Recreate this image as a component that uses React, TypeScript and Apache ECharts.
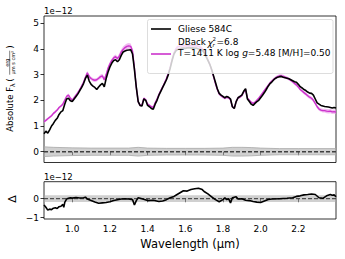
import React, { useEffect, useRef } from 'react';
import * as echarts from 'echarts';

const FONT = 'DejaVu Sans';

// wavelength grid (µm)
const wave = [
  0.85, 0.86, 0.87, 0.88, 0.89, 0.9, 0.91, 0.92, 0.93, 0.94,
  0.95, 0.96, 0.97, 0.98, 0.99, 1.0, 1.01, 1.02, 1.03, 1.04,
  1.05, 1.06, 1.07, 1.08, 1.09, 1.1, 1.11, 1.12, 1.13, 1.14,
  1.15, 1.16, 1.17, 1.18, 1.19, 1.2, 1.21, 1.22, 1.23, 1.24,
  1.25, 1.26, 1.27, 1.28, 1.29, 1.3, 1.31, 1.32, 1.33, 1.34,
  1.35, 1.36, 1.37, 1.38, 1.39, 1.4, 1.41, 1.42, 1.43, 1.44,
  1.45, 1.46, 1.47, 1.48, 1.49, 1.5, 1.51, 1.52, 1.53, 1.54,
  1.55, 1.56, 1.57, 1.58, 1.59, 1.6, 1.61, 1.62, 1.63, 1.64,
  1.65, 1.66, 1.67, 1.68, 1.69, 1.7, 1.71, 1.72, 1.73, 1.74,
  1.75, 1.76, 1.77, 1.78, 1.79, 1.8, 1.81, 1.82, 1.83, 1.84,
  1.85, 1.86, 1.87, 1.88, 1.89, 1.9, 1.91, 1.92, 1.93, 1.94,
  1.95, 1.96, 1.97, 1.98, 1.99, 2.0, 2.01, 2.02, 2.03, 2.04,
  2.05, 2.06, 2.07, 2.08, 2.09, 2.1, 2.11, 2.12, 2.13, 2.14,
  2.15, 2.16, 2.17, 2.18, 2.19, 2.2, 2.21, 2.22, 2.23, 2.24,
  2.25, 2.26, 2.27, 2.28, 2.29, 2.3, 2.31, 2.32, 2.33, 2.34,
  2.35, 2.36, 2.37, 2.38, 2.39, 2.4,
];

// observed flux, Gliese 584C (units of 1e-12)
const obsFlux = [
  0.70, 0.80, 0.72, 0.85, 1.00, 1.10, 1.22, 1.30, 1.45, 1.55,
  1.60, 1.85, 2.05, 2.08, 1.98, 1.95, 2.05, 2.15, 2.25, 2.38,
  2.50, 2.65, 2.85, 2.98, 2.75, 2.62, 2.55, 2.50, 2.42, 2.52,
  2.60, 2.66, 2.52, 2.85, 3.10, 3.30, 3.45, 3.55, 3.58, 3.50,
  3.58, 3.75, 3.88, 3.92, 3.95, 3.96, 3.97, 3.80, 3.20, 2.50,
  1.95, 1.80, 1.78, 2.05, 2.00, 1.80, 1.75, 1.68, 1.65, 1.85,
  2.00, 2.20, 2.35, 2.50, 2.65, 2.80, 3.00, 3.25, 3.55, 3.80,
  3.92, 3.98, 4.00, 4.02, 4.03, 4.02, 4.04, 4.05, 4.03, 4.04,
  4.02, 4.03, 4.00, 3.98, 3.95, 3.85, 3.70, 3.55, 3.40, 3.20,
  2.95, 2.70, 2.45, 2.27, 2.20, 2.15, 2.10, 2.15, 2.12, 2.05,
  1.75, 1.68, 1.95, 2.10, 2.15, 2.20, 2.35, 2.45, 2.05, 1.95,
  1.85, 1.80, 1.88, 1.95, 2.00, 2.10, 2.20, 2.30, 2.42, 2.55,
  2.65, 2.72, 2.80, 2.86, 2.90, 2.92, 2.93, 2.90, 2.88, 2.86,
  2.84, 2.80, 2.76, 2.72, 2.70, 2.62, 2.53, 2.48, 2.42, 2.38,
  2.32, 2.28, 2.27, 2.20, 2.05, 1.90, 1.85, 1.80, 1.78, 1.76,
  1.75, 1.74, 1.72, 1.70, 1.72, 1.70,
];

// model flux T=1411 K (units of 1e-12)
const modelFlux = [
  1.17, 1.22, 1.28, 1.34, 1.40, 1.49, 1.55, 1.62, 1.72, 1.78,
  1.85, 2.00, 2.15, 2.20, 2.08, 2.00, 2.10, 2.20, 2.30, 2.42,
  2.55, 2.70, 2.90, 3.07, 2.92, 2.85, 2.80, 2.78, 2.80, 2.86,
  2.92, 2.95, 2.80, 3.00, 3.25, 3.42, 3.55, 3.65, 3.70, 3.62,
  3.72, 3.88, 3.98, 4.05, 4.10, 4.12, 4.10, 3.92, 3.25, 2.50,
  1.95, 1.80, 1.82, 2.08, 2.02, 1.85, 1.80, 1.75, 1.72, 1.90,
  2.05, 2.22, 2.38, 2.52, 2.68, 2.85, 3.05, 3.30, 3.60, 3.85,
  4.00, 4.08, 4.10, 4.12, 4.12, 4.11, 4.13, 4.12, 4.12, 4.13,
  4.11, 4.12, 4.10, 4.06, 4.00, 3.90, 3.75, 3.58, 3.40, 3.18,
  2.92, 2.65, 2.42, 2.25, 2.18, 2.12, 2.08, 2.12, 2.10, 2.02,
  1.75, 1.70, 1.95, 2.10, 2.12, 2.18, 2.32, 2.42, 2.08, 2.00,
  1.92, 1.88, 1.92, 2.00, 2.08, 2.18, 2.28, 2.38, 2.48, 2.58,
  2.68, 2.75, 2.82, 2.88, 2.92, 2.95, 2.95, 2.93, 2.90, 2.87,
  2.83, 2.78, 2.72, 2.66, 2.60, 2.52, 2.42, 2.36, 2.30, 2.24,
  2.18, 2.12, 2.08, 2.00, 1.88, 1.75, 1.66, 1.62, 1.60, 1.60,
  1.58, 1.57, 1.58, 1.55, 1.56, 1.54,
];

// model uncertainty half-width
const modelErr = [
  0.05, 0.05, 0.05, 0.05, 0.05, 0.05, 0.05, 0.05, 0.05, 0.05,
  0.06, 0.06, 0.06, 0.06, 0.06, 0.06, 0.06, 0.06, 0.06, 0.06,
  0.07, 0.07, 0.07, 0.07, 0.07, 0.07, 0.07, 0.07, 0.07, 0.07,
  0.08, 0.08, 0.08, 0.08, 0.08, 0.08, 0.08, 0.08, 0.08, 0.08,
  0.11, 0.11, 0.11, 0.11, 0.11, 0.11, 0.11, 0.11, 0.08, 0.06,
  0.05, 0.05, 0.05, 0.05, 0.05, 0.05, 0.05, 0.05, 0.05, 0.05,
  0.06, 0.06, 0.06, 0.06, 0.06, 0.06, 0.06, 0.06, 0.06, 0.06,
  0.08, 0.08, 0.08, 0.08, 0.08, 0.08, 0.08, 0.08, 0.08, 0.08,
  0.08, 0.08, 0.08, 0.08, 0.08, 0.08, 0.08, 0.08, 0.08, 0.08,
  0.05, 0.05, 0.05, 0.05, 0.05, 0.05, 0.05, 0.05, 0.05, 0.05,
  0.05, 0.05, 0.05, 0.05, 0.05, 0.05, 0.05, 0.05, 0.05, 0.05,
  0.05, 0.05, 0.05, 0.05, 0.05, 0.05, 0.05, 0.05, 0.05, 0.05,
  0.06, 0.06, 0.06, 0.06, 0.06, 0.06, 0.06, 0.06, 0.06, 0.06,
  0.06, 0.06, 0.06, 0.06, 0.06, 0.06, 0.06, 0.06, 0.06, 0.06,
  0.07, 0.07, 0.07, 0.07, 0.07, 0.07, 0.07, 0.07, 0.07, 0.07,
  0.08, 0.08, 0.08, 0.08, 0.08, 0.08,
];

// observational noise around zero (top panel)
const noiseWave = [0.85, 0.9, 1.0, 1.1, 1.2, 1.3, 1.35, 1.4, 1.5, 1.6, 1.7, 1.8, 1.85, 1.9, 1.95, 2.0, 2.1, 2.2, 2.3, 2.4];
const noiseSigma = [0.19, 0.17, 0.15, 0.14, 0.14, 0.14, 0.17, 0.14, 0.13, 0.13, 0.13, 0.14, 0.17, 0.17, 0.16, 0.14, 0.12, 0.12, 0.12, 0.12];

// residuals Δ (units of 1e-12)
const residWave = [
  0.85, 0.86, 0.87, 0.88, 0.89, 0.9, 0.91, 0.92, 0.93, 0.94, 0.95, 0.955, 0.96, 0.97, 0.98, 0.99,
  1.0, 1.02, 1.04, 1.06, 1.07, 1.08, 1.1, 1.12, 1.14, 1.16, 1.18, 1.2, 1.22, 1.24, 1.26, 1.28,
  1.3, 1.32, 1.33, 1.34, 1.35, 1.37, 1.4, 1.43, 1.46, 1.48, 1.5, 1.52, 1.54, 1.55, 1.57, 1.59,
  1.61, 1.63, 1.65, 1.67, 1.69, 1.7, 1.72, 1.74, 1.76, 1.78, 1.8, 1.81, 1.82, 1.83, 1.84, 1.85,
  1.87, 1.88, 1.9, 1.92, 1.94, 1.96, 1.98, 2.0, 2.02, 2.04, 2.06, 2.1, 2.14, 2.17, 2.19, 2.21,
  2.23, 2.25, 2.27, 2.29, 2.31, 2.33, 2.35, 2.37, 2.38, 2.39, 2.4,
];
const residVal = [
  -0.33, -0.45, -0.6, -0.55, -0.58, -0.5, -0.48, -0.52, -0.42, -0.4, -0.3, -0.45, -0.2, -0.02, 0.02, 0.05,
  0.03, 0.06, 0.04, 0.05, 0.08, -0.02, -0.1, -0.18, -0.24, -0.22, -0.2, -0.16, -0.1, -0.06, -0.02, 0.0,
  -0.02, -0.05, -0.33, -0.1, 0.05, 0.0, -0.1, -0.08, -0.15, -0.12, -0.05, 0.05, 0.12, 0.18, 0.3, 0.42,
  0.4, 0.48, 0.52, 0.55, 0.48, 0.38, 0.25, 0.1, -0.05, -0.16, -0.05, 0.05, -0.05, 0.0, -0.22, 0.05,
  0.1, -0.02, 0.0, -0.08, -0.1, -0.15, -0.18, -0.2, -0.12, -0.04, -0.02, 0.0, 0.02, 0.05, 0.12, 0.15,
  0.2, 0.22, 0.25, 0.22, 0.05, 0.02, 0.15, 0.22, 0.18, 0.2, 0.1,
];
const residBandWave = [0.85, 2.4];
const residBandSigma = [0.18, 0.18];

const xTicks = [1.0, 1.2, 1.4, 1.6, 1.8, 2.0, 2.2];
const yTicksTop = [0, 1, 2, 3, 4, 5];
const yTicksBottom = [-1, 0];

const X_MIN = 0.85;
const X_MAX = 2.4;

function band(xs: number[], lo: number[], hi: number[], xi: number, yi: number, fill: string, stroke: string, z: number) {
  return {
    type: 'custom',
    xAxisIndex: xi,
    yAxisIndex: yi,
    z,
    silent: true,
    clip: true,
    data: xs.map((x, i) => [x, (lo[i] + hi[i]) / 2]),
    renderItem: (params: any, api: any) => {
      if (params.dataIndex !== 0) return null;
      const upper = xs.map((x, i) => api.coord([x, hi[i]]));
      const lower = xs.map((x, i) => api.coord([x, lo[i]])).reverse();
      return {
        type: 'polygon',
        shape: { points: upper.concat(lower) },
        style: { fill, stroke, lineWidth: stroke === 'none' ? 0 : 0.8 },
      };
    },
  };
}

export default function App() {
  const ref = useRef<HTMLDivElement>(null);
  useEffect(() => {
    if (!ref.current) return;
    const chart = echarts.init(ref.current, undefined, { renderer: 'svg' });

    const axisX = (gi: number, showLabel: boolean) => ({
      type: 'value',
      gridIndex: gi,
      min: X_MIN,
      max: X_MAX,
      axisLine: { show: false },
      splitLine: { show: false },
      axisTick: { show: true, length: 3.5, lineStyle: { color: '#000', width: 0.8 }, customValues: xTicks },
      axisLabel: {
        show: showLabel,
        customValues: xTicks,
        color: '#000',
        fontSize: 9,
        fontFamily: FONT,
        margin: 5,
        formatter: (v: number) => v.toFixed(1),
      },
    });

    const option: any = {
      animation: false,
      textStyle: { fontFamily: FONT },
      grid: [
        { left: 44, top: 16, width: 292, height: 146.5, show: true, borderColor: '#000', borderWidth: 0.8, backgroundColor: 'transparent' },
        { left: 44, top: 181.7, width: 292, height: 37.3, show: true, borderColor: '#000', borderWidth: 0.8, backgroundColor: 'transparent' },
      ],
      xAxis: [axisX(0, false), axisX(1, true)],
      yAxis: [
        {
          type: 'value', gridIndex: 0, min: -0.42, max: 5.28,
          axisLine: { show: false }, splitLine: { show: false },
          axisTick: { show: true, length: 3.5, lineStyle: { color: '#000', width: 0.8 }, customValues: yTicksTop },
          axisLabel: { customValues: yTicksTop, color: '#000', fontSize: 9, fontFamily: FONT, margin: 5, formatter: (v: number) => String(v) },
        },
        {
          type: 'value', gridIndex: 1, min: -1.07, max: 0.895,
          axisLine: { show: false }, splitLine: { show: false },
          axisTick: { show: true, length: 3.5, lineStyle: { color: '#000', width: 0.8 }, customValues: yTicksBottom },
          axisLabel: { customValues: yTicksBottom, color: '#000', fontSize: 9, fontFamily: FONT, margin: 5, formatter: (v: number) => (v < 0 ? '\u2212' + Math.abs(v) : String(v)) },
        },
      ],
      series: [
        band(noiseWave, noiseSigma.map((s) => -s), noiseSigma, 0, 0, 'rgba(170,170,170,0.55)', '#a8a8a8', 2),
        {
          type: 'line', xAxisIndex: 0, yAxisIndex: 0, z: 3, showSymbol: false, silent: true,
          data: [[X_MIN, 0], [X_MAX, 0]],
          lineStyle: { color: '#404040', width: 1.6, type: [4, 2] },
        },
        band(wave, modelFlux.map((m, i) => m - modelErr[i]), modelFlux.map((m, i) => m + modelErr[i]), 0, 0, 'rgba(232,140,232,0.6)', 'none', 4),
        {
          type: 'line', xAxisIndex: 0, yAxisIndex: 0, z: 5, showSymbol: false, silent: true,
          data: wave.map((w, i) => [w, modelFlux[i]]),
          lineStyle: { color: '#cc33cc', width: 1.4 },
        },
        {
          type: 'line', xAxisIndex: 0, yAxisIndex: 0, z: 6, showSymbol: false, silent: true,
          data: wave.map((w, i) => [w, obsFlux[i]]),
          lineStyle: { color: '#000', width: 1.6 },
        },
        band(residBandWave, residBandSigma.map((s) => -s), residBandSigma, 1, 1, 'rgba(170,170,170,0.55)', 'none', 2),
        {
          type: 'line', xAxisIndex: 1, yAxisIndex: 1, z: 3, showSymbol: false, silent: true,
          data: [[X_MIN, 0], [X_MAX, 0]],
          lineStyle: { color: '#333', width: 1, type: [4, 2] },
        },
        {
          type: 'line', xAxisIndex: 1, yAxisIndex: 1, z: 6, showSymbol: false, silent: true,
          data: residWave.map((w, i) => [w, residVal[i]]),
          lineStyle: { color: '#000', width: 1.6 },
        },
      ],
      graphic: [
        // offset texts
        { type: 'text', x: 44, y: 10.5, z: 100, style: { text: '1e\u221212', fontSize: 8.5, fontFamily: FONT, fill: '#000', align: 'left', verticalAlign: 'middle' } },
        { type: 'text', x: 44, y: 176.5, z: 100, style: { text: '1e\u221212', fontSize: 8.5, fontFamily: FONT, fill: '#000', align: 'left', verticalAlign: 'middle' } },
        // x label
        { type: 'text', x: 190, y: 244, z: 100, style: { text: 'Wavelength (\u03bcm)', fontSize: 11.5, fontFamily: FONT, fill: '#000', align: 'center', verticalAlign: 'middle' } },
        // Δ label
        {
          type: 'group', x: 12.5, y: 199, rotation: Math.PI / 2, z: 100,
          children: [
            { type: 'text', x: 0, y: 0, style: { text: '\u0394', fontSize: 11, fontFamily: FONT, fill: '#000', align: 'center', verticalAlign: 'middle' } },
          ],
        },
        // y label top
        {
          type: 'group', x: 10.3, y: 131.7, rotation: Math.PI / 2, z: 100,
          children: [
            { type: 'text', x: 0, y: 0, style: { text: 'Absolute F', fontSize: 8.5, fontFamily: FONT, fill: '#000', align: 'left', verticalAlign: 'middle' } },
            { type: 'text', x: 44.5, y: 2.5, style: { text: '\u03bb', fontSize: 6.5, fontFamily: FONT, fill: '#000', align: 'left', verticalAlign: 'middle' } },
            { type: 'text', x: 50, y: 0, style: { text: '(', fontSize: 9, fontFamily: FONT, fill: '#000', align: 'left', verticalAlign: 'middle' } },
            { type: 'text', x: 69, y: -3.6, style: { text: 'erg', fontSize: 5, fontFamily: FONT, fill: '#000', align: 'center', verticalAlign: 'middle' } },
            { type: 'line', shape: { x1: 57, y1: -0.6, x2: 81, y2: -0.6 }, style: { stroke: '#000', lineWidth: 0.5 } },
            { type: 'text', x: 69, y: 2.8, style: { text: '\u03bcm s cm\u00b2', fontSize: 5, fontFamily: FONT, fill: '#000', align: 'center', verticalAlign: 'middle' } },
            { type: 'text', x: 83, y: 0, style: { text: ')', fontSize: 9, fontFamily: FONT, fill: '#000', align: 'left', verticalAlign: 'middle' } },
          ],
        },
        // legend
        { type: 'rect', z: 100, shape: { x: 147.5, y: 19.5, width: 185.5, height: 54, r: 2 }, style: { fill: 'rgba(255,255,255,0.8)', stroke: '#d4d4d4', lineWidth: 0.8 } },
        { type: 'line', z: 101, shape: { x1: 151, y1: 29, x2: 171, y2: 29 }, style: { stroke: '#000', lineWidth: 1.6 } },
        { type: 'text', z: 101, x: 178, y: 29, style: { text: 'Gliese 584C', fontSize: 9, fontFamily: FONT, fill: '#000', align: 'left', verticalAlign: 'middle' } },
        { type: 'text', z: 101, x: 178, y: 41.7, style: { text: 'DBack', fontSize: 8.7, fontFamily: FONT, fill: '#000', align: 'left', verticalAlign: 'middle' } },
        { type: 'text', z: 101, x: 207.5, y: 42.5, style: { text: '\u03c7', fontSize: 9, fontStyle: 'italic', fontFamily: FONT, fill: '#000', align: 'left', verticalAlign: 'middle' } },
        { type: 'text', z: 101, x: 212.5, y: 38.6, style: { text: '2', fontSize: 5.5, fontFamily: FONT, fill: '#000', align: 'left', verticalAlign: 'middle' } },
        { type: 'text', z: 101, x: 212.5, y: 44.6, style: { text: 'r', fontSize: 5.5, fontStyle: 'italic', fontFamily: FONT, fill: '#000', align: 'left', verticalAlign: 'middle' } },
        { type: 'text', z: 101, x: 216.5, y: 41.7, style: { text: '=6.8', fontSize: 9, fontFamily: FONT, fill: '#000', align: 'left', verticalAlign: 'middle' } },
        { type: 'line', z: 101, shape: { x1: 151, y1: 54, x2: 171, y2: 54 }, style: { stroke: '#cc33cc', lineWidth: 1.6 } },
        {
          type: 'text', z: 101, x: 178, y: 52.8,
          style: {
            text: 'T=1411 K log {i|g}=5.48 [M/H]=0.50', fontSize: 9, fontFamily: FONT, fill: '#000', align: 'left', verticalAlign: 'middle',
            rich: { i: { fontSize: 9, fontStyle: 'italic', fontFamily: FONT, fill: '#000' } },
          },
        },
      ],
    };

    chart.setOption(option);
    return () => chart.dispose();
  }, []);

  return <div ref={ref} style={{ position: 'absolute', left: 0, top: 0, width: 345, height: 259 }} />;
}
